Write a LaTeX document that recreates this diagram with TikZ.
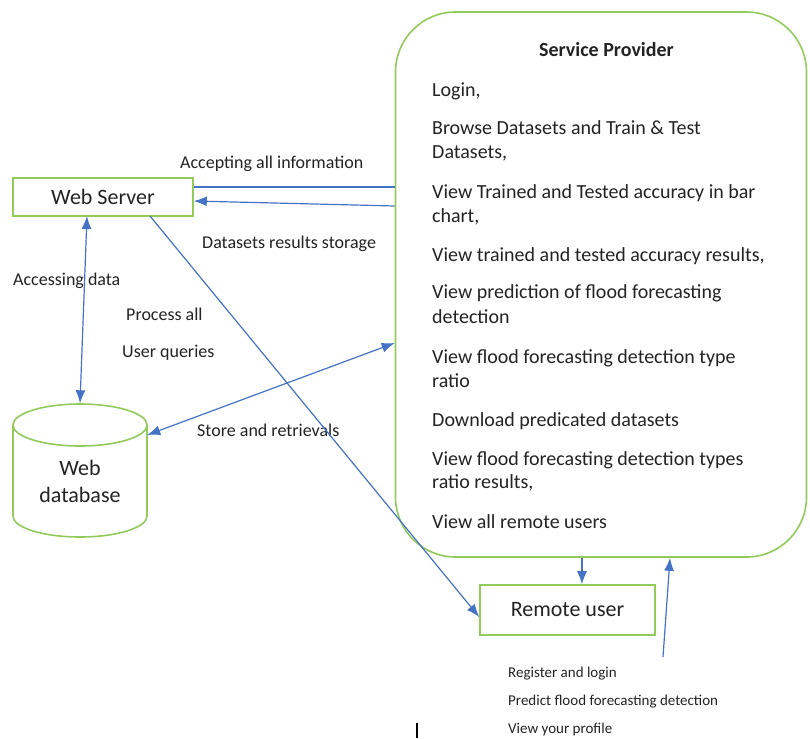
\documentclass[tikz,border=0pt]{standalone}
\usepackage{fontspec}
\setmainfont{Carlito}
\usepackage{xcolor}
\usepackage{tikz}
\usetikzlibrary{positioning,arrows.meta,shapes}

\definecolor{boxgreen}{RGB}{146,202,92}
\definecolor{flowblue}{RGB}{68,114,196}
\definecolor{inkgray}{RGB}{35,35,35}

\begin{document}
\begin{tikzpicture}[x=1pt, y=-1pt, every node/.style={text=inkgray},
		greenbox/.style={draw=boxgreen, line width=1.6pt, font=\fontsize{22}{27}\selectfont},
		flow/.style={draw=flowblue, line width=1.2pt},
		tip/.style={-{Latex[length=13pt,width=10pt]}},
		twotip/.style={{Latex[length=13pt,width=10pt]}-{Latex[length=13pt,width=10pt]}},
		item/.style={anchor=base west, inner sep=0pt, font=\fontsize{20}{24}\selectfont},
		flowtext/.style={anchor=base west, inner sep=0pt, font=\fontsize{18}{22}\selectfont},
		usertext/.style={anchor=base west, inner sep=0pt, font=\fontsize{15}{18}\selectfont}]
\useasboundingbox (0,0) rectangle (810,738);

% boxes
\node[greenbox, rounded corners=60pt, minimum width=411pt, minimum height=545pt] (provider) at (601,284.5) {};
\node[greenbox, minimum width=180pt, minimum height=38pt] (webserver) at (103,197) {Web Server};
\node[greenbox, minimum width=175pt, minimum height=50pt] (remote) at (567.5,610) {Remote user};
\node[minimum width=134pt, minimum height=134pt, inner sep=0pt] (db) at (80,470.5) {};
\draw[boxgreen, line width=1.6pt] (80,425) ellipse (67 and 21);
\draw[boxgreen, line width=1.6pt] (13,425) -- (13,516) arc[start angle=180, end angle=0, x radius=67, y radius=21] -- (147,425);
\node[align=center, inner sep=0pt, font=\fontsize{22}{27}\selectfont] (dbtext) at (80,481) {Web\\database};

% service provider list
\node[anchor=base, inner sep=0pt, font=\fontsize{20}{24}\selectfont\bfseries] (sptitle) at (606.5,57) {Service Provider};
\node[item] (sp1) at (432,97) {Login,};
\node[item] (sp2) at (432,135) {Browse Datasets and Train \& Test};
\node[item] (sp2b) at (432,158) {Datasets,};
\node[item] (sp3) at (432,198) {View Trained and Tested accuracy in bar};
\node[item] (sp3b) at (432,222) {chart,};
\node[item] (sp4) at (432,261) {View trained and tested accuracy results,};
\node[item] (sp5) at (432,298) {View prediction of flood forecasting};
\node[item] (sp5b) at (432,323) {detection};
\node[item] (sp6) at (432,363) {View flood forecasting detection type};
\node[item] (sp6b) at (432,387) {ratio};
\node[item] (sp7) at (432,426) {Download predicated datasets};
\node[item] (sp8) at (432,465) {View flood forecasting detection types};
\node[item] (sp8b) at (432,488) {ratio results,};
\node[item] (sp9) at (432,528) {View all remote users};

% connector labels
\node[flowtext] (accept) at (180,168) {Accepting all information};
\node[flowtext] (storage) at (202,248) {Datasets results storage};
\node[flowtext] (access) at (13,285) {Accessing data};
\node[flowtext] (process) at (126,320) {Process all};
\node[flowtext] (queries) at (122,357) {User queries};
\node[flowtext] (retrieve) at (197,436) {Store and retrievals};

% remote user tasks
\node[usertext] (reg) at (508,677) {Register and login};
\node[usertext] (predict) at (508,705) {Predict flood forecasting detection};
\node[usertext] (profile) at (508,733) {View your profile};
\coordinate (regtail) at (663,657);

% connectors
\draw[flow] (webserver.east |- 0,187) -- (provider.west |- 0,187);
\draw[flow, tip] (provider.west |- 0,206) -- (webserver.east |- 0,201);
\draw[flow, twotip] (87,216 -| webserver.south) ++(-16,0) -- (db.north);
\draw[flow, twotip] (db.east |- 0,435) -- (provider.west |- 0,343);
\draw[flow, tip] (150,216) -- (remote.west |- 0,617);
\draw[flow, tip] (provider.south -| 582,0) -- (remote.north -| 582,0);
\draw[flow, tip] (regtail) -- (provider.south -| 670,0);

\draw[line width=1.2pt] (417,723) -- (417,738);
\end{tikzpicture}
\end{document}
